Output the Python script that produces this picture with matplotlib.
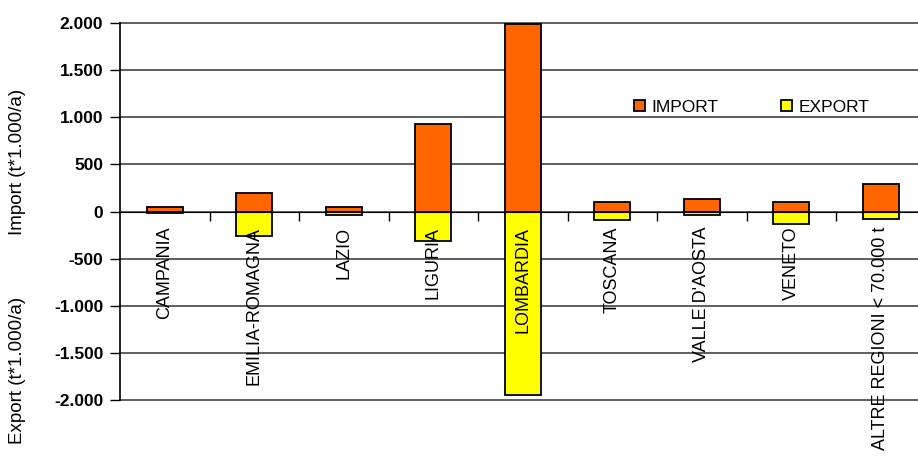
import numpy as np
import matplotlib
matplotlib.use('Agg')
import matplotlib.pyplot as plt
from matplotlib.ticker import FuncFormatter

plt.rcParams['font.family'] = ['Liberation Sans', 'DejaVu Sans']

# dati (t*1.000/a)
regioni = ['CAMPANIA', 'EMILIA-ROMAGNA', 'LAZIO', 'LIGURIA', 'LOMBARDIA',
           'TOSCANA', "VALLE D'AOSTA", 'VENETO', 'ALTRE REGIONI < 70.000 t']
import_vals = [50, 200, 50, 925, 1985, 105, 130, 105, 295]
export_vals = [-18, -255, -35, -310, -1945, -90, -35, -130, -75]
y_ticks = np.arange(-2000, 2001, 500)

x = np.arange(len(regioni)) + 0.5

fig = plt.figure(figsize=(9.18, 4.57), dpi=100)
ax = fig.add_axes([120/918, 57/457, 805.5/918, 377/457])

ax.bar(x, import_vals, width=0.4, color='#FF6600', edgecolor='black', lw=1.3, label='IMPORT', zorder=2)
ax.bar(x, export_vals, width=0.4, color='#FFFF00', edgecolor='black', lw=1.3, label='EXPORT', zorder=2)

# griglia orizzontale dietro le barre
for yv in y_ticks:
    ax.axhline(yv, color='#333333', lw=1.1, zorder=1, clip_on=False)

ax.set_xlim(0, len(regioni))
ax.set_ylim(-2000, 2000)
ax.set_axisbelow(False)
ax.set_yticks(y_ticks)
ax.yaxis.set_major_formatter(FuncFormatter(lambda v, p: f'{v:,.0f}'.replace(',', '.')))
for t in ax.get_yticklabels():
    t.set_fontweight('bold')
ax.tick_params(axis='y', labelsize=12.5, length=7, width=1, color='black', pad=5)

ax.spines['bottom'].set_position(('data', 0))
ax.spines['top'].set_visible(False)
ax.spines['right'].set_visible(False)
ax.spines['left'].set_linewidth(1.2)

ax.set_xticks(x)
ax.set_xticklabels(regioni, rotation=90, va='top', ha='center', fontsize=13)
ax.set_xticks(np.arange(1, len(regioni)), minor=True)
ax.tick_params(axis='x', which='major', length=0, pad=11)
ax.tick_params(axis='x', which='minor', length=6.5, width=1, direction='out')

fig.text(0.019, 1 - 162/457, 'Import (t*1.000/a)', rotation=90, ha='center', va='center', fontsize=13.5)
fig.text(0.019, 1 - 370/457, 'Export (t*1.000/a)', rotation=90, ha='center', va='center', fontsize=13.5)

fig.legend(loc='center left', bbox_to_anchor=(634/918, 1 - 107/457), ncol=2, frameon=False, fontsize=12.5,
           handlelength=0.62, handleheight=0.62, handletextpad=0.4, columnspacing=3.6,
           borderaxespad=0, borderpad=0)

fig.savefig('out.png', dpi=100)
